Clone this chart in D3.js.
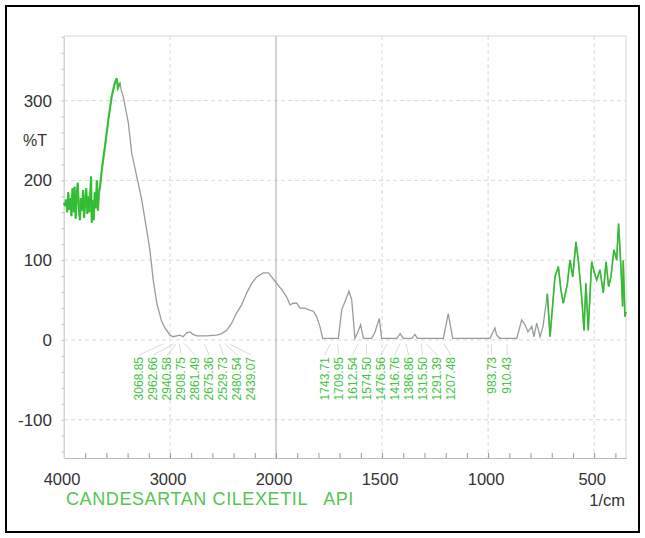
<!DOCTYPE html>
<html>
<head>
<meta charset="utf-8">
<script src="https://cdn.jsdelivr.net/npm/d3@7"></script>
<style>
    body { margin: 0; background: #fff; }
    svg { display: block; font-family: Arial, "Liberation Sans", sans-serif; }
</style>
</head>
<body>
<svg id="ir-chart" width="645" height="538"></svg>
<script>
// spectrum (wavenumber, %T)
var wavenumbers = [4000, 3990, 3980, 3970, 3960, 3950, 3940, 3930, 3920, 3910, 3900, 3890, 3880, 3870,
    3860, 3850, 3840, 3830, 3820, 3810, 3800, 3790, 3780, 3770, 3760, 3745, 3738, 3730, 3720, 3710,
    3700, 3690, 3680, 3670, 3660, 3644, 3613, 3582, 3550, 3525, 3503, 3491, 3472, 3458, 3441, 3393,
    3361, 3314, 3267, 3220, 3189, 3158, 3123, 3078, 3047, 3000, 2972, 2906, 2877, 2842, 2811, 2783,
    2748, 2654, 2559, 2512, 2465, 2418, 2371, 2324, 2276, 2229, 2182, 2120, 2073, 2041, 2000, 1997,
    1973, 1950, 1934, 1918, 1902, 1887, 1863, 1848, 1824, 1808, 1793, 1780, 1706, 1690, 1675, 1656,
    1643, 1628, 1617, 1601, 1588, 1549, 1533, 1525, 1513, 1502, 1430, 1415, 1400, 1359, 1345, 1334,
    1211, 1188, 1167, 991, 968, 960, 944, 930, 865, 842, 826, 812, 794, 784, 771, 755, 741, 721, 708,
    685, 669, 657, 646, 627, 614, 601, 586, 575, 559, 548, 539, 528, 512, 501, 488, 473, 457, 444,
    432, 421, 407, 394, 385, 374, 366, 363, 355, 350];
var transmittance = [172, 168, 176, 160, 185, 163, 178, 155, 190, 160, 192, 152, 182, 197,
    165, 150, 178, 162, 188, 153, 175, 190, 158, 180, 160, 205, 147, 175, 150, 185,
    165, 200, 162, 185, 192, 213, 243, 276, 305, 320, 328, 316, 322, 312, 305, 272,
    234, 205, 176, 138, 112, 75, 45, 23, 15, 6, 4, 6, 4, 9, 10, 7,
    5, 5, 6, 8, 12, 21, 34, 44, 59, 71, 79, 84, 84, 79, 72, 71,
    63, 54, 44, 46, 46, 40, 40, 38, 36, 29, 17, 2, 2, 38, 48, 61,
    50, 2, 8, 19, 2, 2, 10, 17, 27, 2, 2, 8, 2, 2, 7, 2,
    2, 33, 2, 2, 15, 6, 2, 2, 2, 25, 19, 10, 17, 4, 21, 4, 17, 58, 4,
    79, 92, 63, 46, 69, 100, 79, 123, 100, 54, 12, 71, 12, 98, 86, 75, 88, 59, 98,
    67, 79, 113, 100, 146, 92, 42, 100, 29, 35];

var peakLabels = [3068.85, 2962.66, 2940.58, 2908.75, 2861.49, 2675.36, 2529.73, 2480.54, 2439.07,
    1743.71, 1709.95, 1612.54, 1574.50, 1476.56, 1416.76, 1386.86, 1315.50, 1291.39, 1207.48,
    983.73, 910.43];

var xTickValues = [4000, 3000, 2000, 1500, 1000, 500];
var yTickValues = [300, 200, 100, 0, -100];
var titleText = 'CANDESARTAN CILEXETIL   API';

(function() {
    var spectrum = wavenumbers.map(function(w, i) { return { w: w, t: transmittance[i] }; });

    var svg = d3.select('#ir-chart');
    var plotLeft = 64, plotRight = 626, plotTop = 36, plotBottom = 458;

    // IR charts use a half scale above 2000 1/cm
    var x = d3.scaleLinear().domain([4000, 2000, 350]).range([plotLeft, 276, plotRight]);
    var y = d3.scaleLinear().domain([-148, 381]).range([plotBottom, plotTop]);

    var green = '#45c445';

    svg.append('rect')
        .attr('x', 6).attr('y', 6).attr('width', 633).attr('height', 526)
        .attr('fill', 'none').attr('stroke', '#000').attr('stroke-width', 2);

    // grid
    svg.append('g').selectAll('line')
        .data(yTickValues)
        .enter().append('line')
        .attr('x1', plotLeft).attr('x2', plotRight)
        .attr('y1', function(d) { return y(d); }).attr('y2', function(d) { return y(d); })
        .attr('stroke', '#d9d9d9').attr('stroke-dasharray', '4,3');

    svg.append('g').selectAll('line')
        .data(xTickValues.slice(1))
        .enter().append('line')
        .attr('x1', function(d) { return x(d); }).attr('x2', function(d) { return x(d); })
        .attr('y1', plotTop).attr('y2', plotBottom)
        .attr('stroke', function(d) { return d === 2000 ? '#a8a8a8' : '#d9d9d9'; })
        .attr('stroke-dasharray', function(d) { return d === 2000 ? null : '4,3'; });

    // frame of the plot
    svg.append('path')
        .attr('d', 'M' + plotLeft + ',' + plotBottom + 'V' + plotTop + 'H' + plotRight + 'V' + plotBottom)
        .attr('fill', 'none').attr('stroke', '#d4d4d4');

    // bottom axis, ticks pointing in
    var minorX = d3.range(4000, 2000, -200).concat(d3.range(2000, 349, -100));
    var xAxis = d3.axisBottom(x)
        .tickValues(minorX)
        .tickSizeInner(-5).tickSizeOuter(0)
        .tickFormat('');
    svg.append('g')
        .attr('transform', 'translate(0,' + plotBottom + ')')
        .call(xAxis)
        .call(function(g) {
            g.select('.domain').attr('stroke', '#b8b8b8');
            g.selectAll('.tick line').attr('stroke', '#999');
        });

    svg.append('g').selectAll('text')
        .data(xTickValues)
        .enter().append('text')
        .attr('x', function(d) { return x(d) - 2; })
        .attr('y', 485)
        .attr('text-anchor', 'middle')
        .attr('font-size', 16.5)
        .attr('fill', '#333')
        .text(function(d) { return d; });

    // left axis
    var yAxis = d3.axisLeft(y)
        .tickValues(d3.range(-140, 381, 20))
        .tickSizeInner(3).tickSizeOuter(0)
        .tickFormat('');
    svg.append('g')
        .attr('transform', 'translate(' + plotLeft + ',0)')
        .call(yAxis)
        .call(function(g) {
            g.select('.domain').attr('stroke', '#d4d4d4');
            g.selectAll('.tick line').attr('stroke', '#c8c8c8');
        });

    svg.append('g').selectAll('text')
        .data(yTickValues)
        .enter().append('text')
        .attr('x', 52)
        .attr('y', function(d) { return y(d); })
        .attr('dy', '0.35em')
        .attr('text-anchor', 'end')
        .attr('font-size', 17)
        .attr('fill', '#333')
        .text(function(d) { return d; });

    svg.append('text')
        .attr('x', 23).attr('y', 146)
        .attr('font-size', 16).attr('fill', '#333')
        .text('%T');

    // spectrum
    var line = d3.line()
        .x(function(d) { return x(d.w); })
        .y(function(d) { return y(d.t); });

    svg.append('path')
        .datum(spectrum)
        .attr('d', line)
        .attr('fill', 'none')
        .attr('stroke', '#979e97')
        .attr('stroke-width', 1.3);

    // noisy ends show up green
    [spectrum.filter(function(d) { return d.w >= 3470; }),
     spectrum.filter(function(d) { return d.w <= 730; })].forEach(function(part, i) {
        svg.append('path')
            .datum(part)
            .attr('d', line)
            .attr('fill', 'none')
            .attr('stroke', '#22c022')
            .attr('stroke-opacity', 0.85)
            .attr('stroke-width', i === 0 ? 2.2 : 1.6);
    });

    // peak labels, spread so they do not overlap
    var gap = 14;
    var clusters = [];
    peakLabels.map(function(v) { return { v: v, x: x(v) }; })
        .sort(function(a, b) { return a.x - b.x; })
        .forEach(function(p) {
            clusters.push({ items: [p], start: p.x });
            while (clusters.length > 1) {
                var prev = clusters[clusters.length - 2], cur = clusters[clusters.length - 1];
                if (prev.start + prev.items.length * gap <= cur.start) break;
                var items = prev.items.concat(cur.items);
                var mean = d3.mean(items, function(d) { return d.x; });
                clusters.splice(clusters.length - 2, 2, { items: items, start: mean - (items.length - 1) * gap / 2 });
            }
        });
    clusters.forEach(function(c) {
        c.items.forEach(function(d, i) { d.lx = c.start + i * gap; });
    });
    var placed = d3.merge(clusters.map(function(c) { return c.items; }));

    svg.append('g').selectAll('line')
        .data(placed)
        .enter().append('line')
        .attr('x1', function(d) { return d.lx; }).attr('y1', 355)
        .attr('x2', function(d) { return d.x; }).attr('y2', y(0) + 4)
        .attr('stroke', '#c4d8c4').attr('stroke-width', 0.8);

    svg.append('g').selectAll('text')
        .data(placed)
        .enter().append('text')
        .attr('transform', function(d) { return 'translate(' + d.lx + ',357) rotate(-90)'; })
        .attr('dy', '0.35em')
        .attr('text-anchor', 'end')
        .attr('font-size', 12)
        .attr('fill', green)
        .text(function(d) { return d.v.toFixed(2); });

    svg.append('text')
        .attr('x', 66).attr('y', 505)
        .attr('font-size', 18)
        .attr('letter-spacing', 0.6)
        .attr('fill', '#55c455')
        .style('white-space', 'pre')
        .text(titleText);

    svg.append('text')
        .attr('x', 625).attr('y', 506)
        .attr('text-anchor', 'end')
        .attr('font-size', 16.5)
        .attr('fill', '#333')
        .text('1/cm');
})();
</script>
</body>
</html>
